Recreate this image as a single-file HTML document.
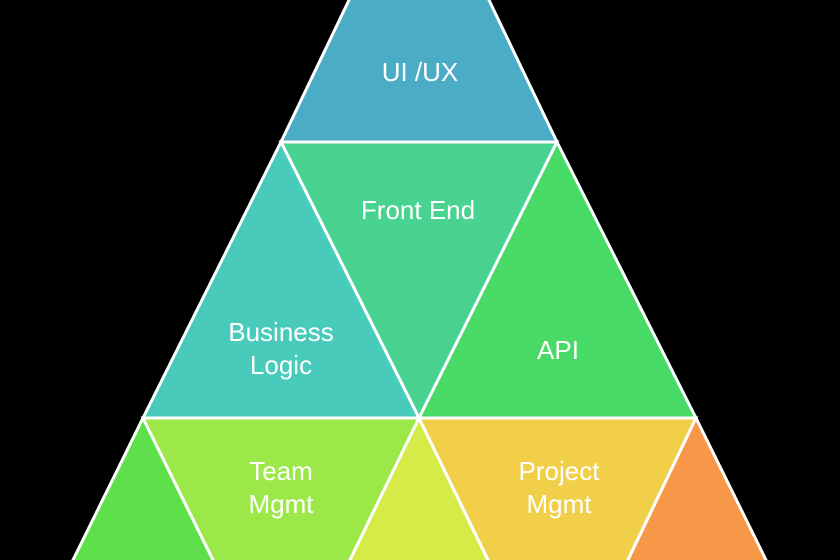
<!DOCTYPE html>
<html><head><meta charset="utf-8"><style>
html,body{margin:0;padding:0;background:#000;width:840px;height:560px;overflow:hidden}
svg{display:block}
text{font-family:"Liberation Sans",sans-serif;font-size:26px;fill:#fff;text-anchor:middle}
</style></head><body>
<svg width="840" height="560" viewBox="0 0 840 560">
<g stroke="#fff" stroke-width="3" stroke-linejoin="miter">
<polygon points="350,-2 488,-2 557,142 281,142" fill="#4BACC6"/>
<polygon points="281,142 557,142 419,418" fill="#48D390"/>
<polygon points="281,142 419,418 143,418" fill="#48CBBA"/>
<polygon points="557,142 696,418 419,418" fill="#48DA66"/>
<polygon points="143,418 214,562 72,562" fill="#5EE04A"/>
<polygon points="143,418 419,418 349,562 214,562" fill="#9BE848"/>
<polygon points="419,418 489,562 349,562" fill="#D4EB48"/>
<polygon points="419,418 696,418 627,562 489,562" fill="#F2CF48"/>
<polygon points="696,418 767,562 627,562" fill="#F79748"/>
</g>
<text x="420" y="81">UI /UX</text>
<text x="418" y="219">Front End</text>
<text x="281" y="341">Business</text>
<text x="281" y="374">Logic</text>
<text x="558" y="359">API</text>
<text x="281" y="480">Team</text>
<text x="281" y="513">Mgmt</text>
<text x="559" y="480">Project</text>
<text x="559" y="513">Mgmt</text>
</svg>
</body></html>
